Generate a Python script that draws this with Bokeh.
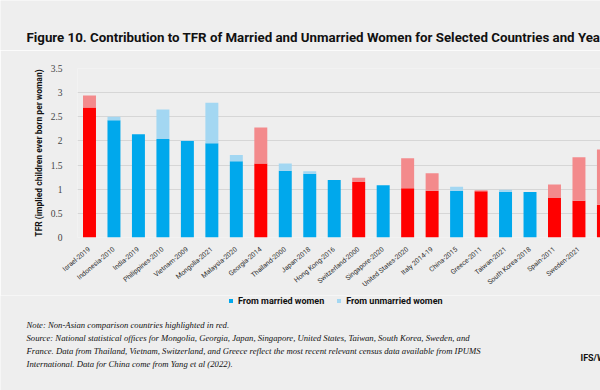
from bokeh.plotting import figure
from bokeh.layouts import column
from bokeh.models import (ColumnDataSource, Range1d, FixedTicker, Label, Legend, LegendItem)
from bokeh.embed import file_html
from bokeh.resources import INLINE
import math

countries = ["Israel-2019", "Indonesia-2010", "India-2019", "Philippines-2010", "Vietnam-2009",
             "Mongolia-2021", "Malaysia-2020", "Georgia-2014", "Thailand-2000", "Japan-2018",
             "Hong Kong-2016", "Switzerland-2000", "Singapore-2020", "United States-2020",
             "Italy 2014-19", "China-2015", "Greece-2011", "Taiwan-2021", "South Korea-2018",
             "Spain-2011", "Sweden-2021", "France-2021"]
married = [2.69, 2.43, 2.14, 2.04, 2.00, 1.95, 1.58, 1.53, 1.38, 1.32,
           1.19, 1.15, 1.08, 1.02, 0.97, 0.97, 0.96, 0.95, 0.94, 0.82, 0.76, 0.68]
unmarried = [0.25, 0.07, 0.00, 0.61, 0.01, 0.84, 0.13, 0.75, 0.15, 0.05,
             0.00, 0.09, 0.00, 0.62, 0.36, 0.08, 0.02, 0.04, 0.00, 0.28, 0.90, 1.14]
non_asian = [True, False, False, False, False, False, False, True, False, False,
             False, True, False, True, True, False, True, False, False, True, True, True]
y_ticks = [0, 0.5, 1, 1.5, 2, 2.5, 3, 3.5]
y_tick_labels = ["0", "0.5", "1", "1.5", "2", "2.5", "3", "3.5"]
series_labels = ["From married women", "From unmarried women"]

title_text = "Figure 10. Contribution to TFR of Married and Unmarried Women for Selected Countries and Years"
notes = ["Note: Non-Asian comparison countries highlighted in red.",
         "Source: National statistical offices for Mongolia, Georgia, Japan, Singapore, United States, Taiwan, South Korea, Sweden, and",
         "France. Data from Thailand, Vietnam, Switzerland, and Greece reflect the most recent relevant census data available from IPUMS",
         "International. Data for China come from Yang et al (2022)."]
credit = "IFS/Wheatley Institution"

BLUE, LBLUE, RED, LRED = "#00a8ec", "#a3d7f2", "#ff0000", "#f38a8c"
BG = "#eeeeee"
SANS = "Roboto"
W = 600


def text_fig(h):
    f = figure(width=W, height=h, output_backend="svg", toolbar_location=None,
               x_range=Range1d(0, W), y_range=Range1d(0, h),
               x_axis_location=None, y_axis_location=None,
               min_border=0, background_fill_color=BG, border_fill_color=BG,
               outline_line_color=None, frame_align=False)
    f.grid.grid_line_color = None
    return f


# ---- title strip (page y 0-50)
top = text_fig(50)
top.add_layout(Label(x=26, y=13, text=title_text, text_font=SANS, text_font_style="bold",
                     text_font_size="13.3px", text_color="#111111", text_baseline="middle"))

# ---- main chart (page y 50-295)
idx = list(range(len(countries)))
src = ColumnDataSource(dict(
    x=idx,
    married=married,
    total=[m + u for m, u in zip(married, unmarried)],
    c1=[RED if n else BLUE for n in non_asian],
    c2=[LRED if n else LBLUE for n in non_asian],
))

p = figure(width=W, height=245, output_backend="svg", toolbar_location=None,
           x_range=Range1d(-0.49, 20.88), y_range=Range1d(0, 3.5),
           min_border_left=77, min_border_right=0, min_border_top=18, min_border_bottom=58,
           background_fill_color=BG, border_fill_color=BG, outline_line_color=None,
           frame_align=False)

p.vbar(x="x", bottom=0, top="married", width=0.53, fill_color="c1", line_color=None, source=src)
p.vbar(x="x", bottom="married", top="total", width=0.53, fill_color="c2", line_color=None, source=src)

p.xgrid.grid_line_color = None
p.ygrid.grid_line_color = "#d6d6d6"
p.ygrid.grid_line_width = 1
p.ygrid.ticker = FixedTicker(ticks=y_ticks)

ya = p.yaxis[0]
ya.ticker = FixedTicker(ticks=y_ticks)
ya.major_label_overrides = {t: l for t, l in zip(y_ticks, y_tick_labels)}
ya.axis_line_color = None
ya.major_tick_line_color = None
ya.minor_tick_line_color = None
ya.major_label_text_font = "Liberation Serif"
ya.major_label_text_font_size = "9.5px"
ya.major_label_text_color = "#444444"
ya.major_label_standoff = 9
ya.axis_label = "TFR (implied children ever born per woman)"
ya.axis_label_text_font = SANS
ya.axis_label_text_font_style = "bold"
ya.axis_label_text_font_size = "8.5px"
ya.axis_label_text_color = "#111111"
ya.axis_label_standoff = 4

xa = p.xaxis[0]
xa.ticker = FixedTicker(ticks=idx)
xa.major_label_overrides = {i: c for i, c in zip(idx, countries)}
xa.major_label_orientation = math.radians(40)
xa.axis_line_color = None
xa.major_tick_line_color = None
xa.minor_tick_line_color = None
xa.major_label_text_font = SANS
xa.major_label_text_font_size = "6.8px"
xa.major_label_text_color = "#333333"
xa.major_label_standoff = 5

# ---- legend + notes strip (page y 295-390)
bot = text_fig(95)
k1 = bot.vbar(x=[-100], top=[0], width=1, fill_color=BLUE, line_color=None)
k2 = bot.vbar(x=[-100], top=[0], width=1, fill_color=LBLUE, line_color=None)
legend = Legend(items=[LegendItem(label=series_labels[0], renderers=[k1]),
                       LegendItem(label=series_labels[1], renderers=[k2])],
                orientation="horizontal", location=(228, 84),
                glyph_width=5, glyph_height=5, label_height=11, label_standoff=5,
                spacing=12, padding=0, margin=0,
                background_fill_alpha=0, border_line_color=None,
                label_text_font=SANS, label_text_font_style="bold",
                label_text_font_size="9px", label_text_color="#111111")
bot.add_layout(legend, "center")

for i, t in enumerate(notes):
    bot.add_layout(Label(x=26, y=66 - 13 * i, text=t, text_font="Liberation Serif",
                         text_font_style="italic", text_font_size="8.7px",
                         text_color="#111111", text_baseline="middle"))
bot.add_layout(Label(x=580, y=33, text=credit, text_font=SANS, text_font_style="bold",
                     text_font_size="9px", text_color="#111111", text_baseline="middle"))

layout = column(top, p, bot, spacing=0)
open("out.html", "w").write(file_html(layout, INLINE))
